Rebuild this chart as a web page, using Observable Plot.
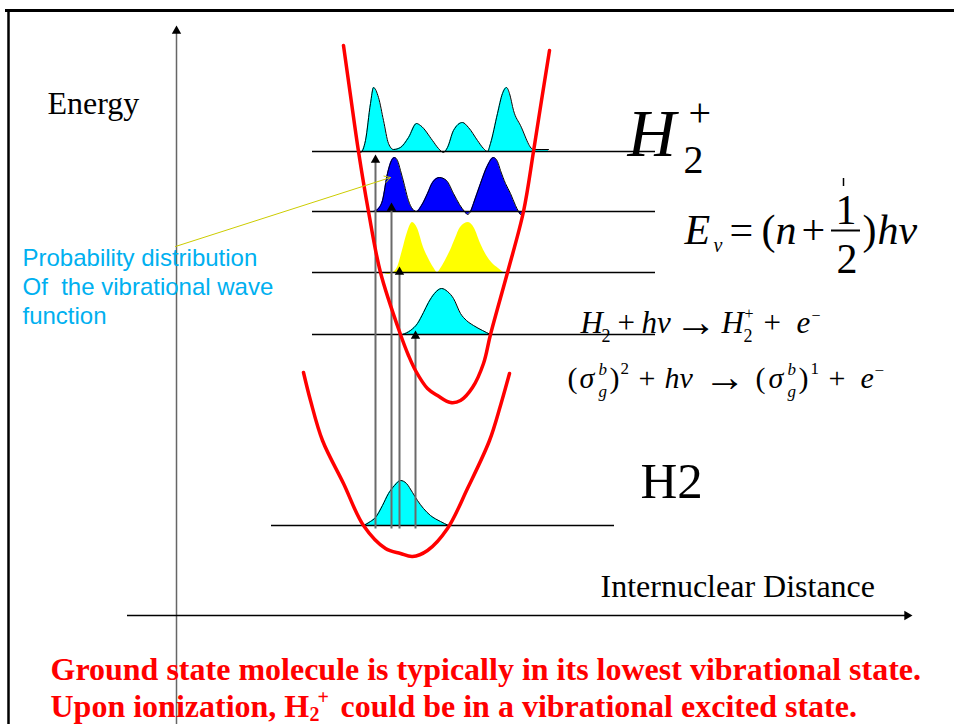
<!DOCTYPE html>
<html><head><meta charset="utf-8">
<script src="https://cdn.jsdelivr.net/npm/d3@7"></script>
<script src="https://cdn.jsdelivr.net/npm/@observablehq/plot@0.6"></script>
<style>body{margin:0;background:#fff} svg text{white-space:pre}</style>
</head><body><div id="chart"></div>
<script>
// ---------- DATA (internuclear distance r, energy E; arbitrary units) ----------
const upperLevels = [4.64, 4.04, 3.43, 2.81];          // H2+ vibrational levels
const groundLevel = [0.90];                              // H2 v=0
const upperPotential = [[1.67,5.70],[1.74,5.20],[1.82,4.64],[1.92,4.04],[2.04,3.43],[2.24,2.81],[2.32,2.60],[2.39,2.45],[2.51,2.27],[2.61,2.20],[2.74,2.13],[2.84,2.15],[2.96,2.28],[3.07,2.52],[3.14,2.81],[3.31,3.43],[3.47,4.04],[3.57,4.64],[3.65,5.15],[3.73,5.65]];
const lowerPotential = [[1.27,2.43],[1.34,2.15],[1.46,1.75],[1.67,1.32],[1.87,0.90],[2.09,0.67],[2.24,0.62],[2.36,0.59],[2.51,0.65],[2.71,0.87],[2.91,1.27],[3.13,1.75],[3.24,2.10],[3.33,2.42]];
const psiV3 = [[1.81,4.65],[1.84,4.63],[1.89,4.75],[1.94,5.12],[1.97,5.28],[2.02,5.18],[2.07,4.95],[2.12,4.72],[2.17,4.66],[2.24,4.68],[2.32,4.78],[2.40,4.92],[2.44,4.90],[2.56,4.75],[2.62,4.67],[2.67,4.63],[2.71,4.68],[2.77,4.85],[2.86,4.93],[2.92,4.88],[3.01,4.75],[3.07,4.67],[3.11,4.64],[3.14,4.72],[3.21,5.02],[3.26,5.22],[3.30,5.28],[3.33,5.22],[3.37,5.05],[3.44,4.90],[3.57,4.66],[3.72,4.66]];
const psiV2 = [[1.97,4.04],[2.02,4.07],[2.06,4.15],[2.11,4.42],[2.15,4.55],[2.18,4.58],[2.21,4.55],[2.24,4.45],[2.28,4.30],[2.31,4.18],[2.35,4.08],[2.40,4.04],[2.45,4.10],[2.51,4.22],[2.56,4.33],[2.63,4.38],[2.70,4.35],[2.77,4.22],[2.83,4.11],[2.88,4.04],[2.91,4.01],[2.94,4.04],[2.97,4.12],[3.04,4.32],[3.11,4.50],[3.17,4.58],[3.21,4.54],[3.24,4.45],[3.29,4.32],[3.34,4.22],[3.39,4.10],[3.42,4.04],[3.44,4.01],[3.47,4.04]];
const psiV1 = [[2.07,3.43],[2.12,3.41],[2.17,3.43],[2.21,3.48],[2.26,3.65],[2.31,3.83],[2.36,3.93],[2.41,3.87],[2.47,3.68],[2.52,3.57],[2.57,3.48],[2.61,3.43],[2.65,3.48],[2.70,3.57],[2.74,3.65],[2.79,3.77],[2.84,3.88],[2.92,3.93],[2.98,3.87],[3.04,3.72],[3.10,3.60],[3.16,3.52],[3.22,3.47],[3.27,3.43]];
const psiV0 = [[2.26,2.81],[2.34,2.85],[2.41,2.92],[2.47,3.03],[2.52,3.13],[2.58,3.22],[2.65,3.27],[2.71,3.24],[2.77,3.17],[2.84,3.02],[2.90,2.95],[2.97,2.90],[3.06,2.85],[3.14,2.81]];
const psiGround = [[1.87,0.90],[1.94,0.94],[1.99,0.98],[2.06,1.10],[2.12,1.22],[2.18,1.30],[2.24,1.35],[2.30,1.32],[2.36,1.23],[2.41,1.15],[2.47,1.07],[2.54,1.00],[2.64,0.94],[2.72,0.90]];
const transitionR = [1.99, 2.15, 2.23, 2.39];
const transitionTop = [4.61, 4.13, 3.49, 2.85];
const transitionBottom = 0.87;

// ---------- TEXT (label, r, E, font size) ----------
const italicLabels = [
  ["H",4.51,4.60,67],
  ["E",5.08,3.72,42],["v",5.37,3.64,20],["n",5.99,3.72,42],["hv",7.01,3.72,42],
  ["H",4.04,2.83,31],["hv",4.65,2.83,31],["H",5.45,2.83,31],["e",6.20,2.83,31],
  ["σ",4.03,2.28,30],["g",4.22,2.19,17],["b",4.22,2.41,17],["hv",4.88,2.28,30],
  ["σ",5.92,2.28,30],["g",6.11,2.19,17],["b",6.11,2.41,17],["e",6.84,2.28,30]
];
const uprightLabels = [
  ["2",5.07,4.43,40],["+",5.12,4.90,40],
  ["=",5.53,3.72,42],["(",5.85,3.72,42],["+",6.25,3.72,42],["1",6.59,3.92,42],["2",6.60,3.43,42],[")",6.86,3.72,42],
  ["2",4.25,2.74,18],["+",4.41,2.83,31],["→",4.98,2.80,42],["2",5.67,2.74,18],["+",5.68,2.97,16],["+",5.87,2.83,31],["−",6.35,2.95,16],
  ["(",3.91,2.28,30],[")",4.33,2.28,30],["2",4.44,2.42,17],["+",4.62,2.28,30],["→",5.27,2.25,42],
  ["(",5.79,2.28,30],[")",6.22,2.28,30],["1",6.34,2.42,17],["+",6.52,2.28,30],["−",6.98,2.40,17],
  ["H2",4.64,1.18,51],
  ["Energy",-1.29,5.02,32],
  ["Internuclear Distance",4.24,0.19,32]
];
const noteLabels = [
  ["Probability distribution",-1.54,3.50,24],
  ["Of  the vibrational wave",-1.54,3.21,24],
  ["function",-1.54,2.92,24]
];
const captionLabels = [
  ["Ground state molecule is typically in its lowest vibrational state.",-1.26,-0.64,32],
  ["Upon ionization, H",-1.26,-1.01,32],
  ["2",1.33,-1.05,20],["+",1.41,-0.88,20],
  ["could be in a vibrational excited state.",1.64,-1.01,32]
];

// ---------- DRAW ----------
const serif = "'Liberation Serif','Times New Roman',serif";
const sans = "'Liberation Sans',Arial,sans-serif";
const HEAD = 0.0544; // triangle centroid-to-tip offset in E units

function dist(data, level, fill, outline) {
  const marks = [Plot.areaY(data, {x: d => d[0], y1: () => level, y2: d => d[1], curve: "monotone-x", fill})];
  if (outline) marks.push(Plot.line(data, {x: d => d[0], y: d => d[1], curve: "monotone-x", stroke: "black", strokeWidth: 1}));
  return marks;
}
function labels(data, opts) {
  return Plot.text(data, {x: d => d[1], y: d => d[2], text: d => d[0], fontSize: d => d[3], textAnchor: "start", lineAnchor: "bottom", ...opts});
}

const chart = Plot.plot({
  width: 954, height: 724, margin: 0,
  x: {domain: [-1.76, 7.78], axis: null},
  y: {domain: [-1.09, 6.15], axis: null},
  style: {background: "white"},
  marks: [
    // frame
    Plot.ruleY([6.05], {x1: -1.71, x2: 7.78, stroke: "black", strokeWidth: 3}),
    Plot.ruleX([-1.68], {y1: 6.06, y2: -1.09, stroke: "black", strokeWidth: 2.5}),
    // axes
    Plot.ruleX([0], {y1: -1.09, y2: 5.86, stroke: "#666", strokeWidth: 1.5}),
    Plot.dot([0], {x: d => d, y: () => 5.90 - HEAD, symbol: "triangle", r: 3.5, fill: "black", stroke: null}),
    Plot.ruleY([0], {x1: -0.49, x2: 7.33, stroke: "black", strokeWidth: 1.5}),
    Plot.dot([0], {x: () => 7.36 - HEAD, y: d => d, symbol: "triangle", r: 3.5, fill: "black", stroke: null, rotate: 90}),
    // distributions
    ...dist(psiV3, upperLevels[0], "#00ffff", true),
    ...dist(psiV2, upperLevels[1], "#0000ff", true),
    ...dist(psiV1, upperLevels[2], "#ffff00", false),
    ...dist(psiV0, upperLevels[3], "#00ffff", true),
    ...dist(psiGround, groundLevel[0], "#00ffff", true),
    // vibrational levels
    Plot.ruleY(upperLevels, {x1: 1.36, x2: 4.79, stroke: "black", strokeWidth: 1.3}),
    Plot.ruleY(groundLevel, {x1: 0.95, x2: 4.38, stroke: "black", strokeWidth: 1.3}),
    // transitions
    Plot.link(transitionR, {x1: d => d, x2: d => d, y1: () => transitionBottom, y2: (d, i) => transitionTop[i] - HEAD, stroke: "#6a6a6a", strokeWidth: 2}),
    Plot.dot(transitionR, {x: d => d, y: (d, i) => transitionTop[i] - HEAD, symbol: "triangle", r: 3.5, fill: "black", stroke: null}),
    // potentials
    Plot.line(upperPotential, {x: d => d[0], y: d => d[1], curve: "catmull-rom", stroke: "#ff0000", strokeWidth: 3.5}),
    Plot.line(lowerPotential, {x: d => d[0], y: d => d[1], curve: "catmull-rom", stroke: "#ff0000", strokeWidth: 3.5}),
    // pointer
    Plot.arrow([0], {x1: -0.01, y1: 3.69, x2: 2.14, y2: 4.38, stroke: "#cccc00", strokeWidth: 1, headLength: 10}),
    // fraction bar and tick
    Plot.ruleY([3.85], {x1: 6.55, x2: 6.84, stroke: "black", strokeWidth: 2}),
    Plot.ruleX([6.67], {y1: 4.29, y2: 4.37, stroke: "black", strokeWidth: 1.5}),
    // text
    labels(italicLabels, {fontFamily: serif, fontStyle: "italic", fill: "black"}),
    labels(uprightLabels, {fontFamily: serif, fill: "black"}),
    labels(noteLabels, {fontFamily: sans, fill: "#00b0f0"}),
    labels(captionLabels, {fontFamily: serif, fontWeight: "bold", fill: "#ff0000"})
  ]
});
document.getElementById("chart").append(chart);
</script>
</body></html>
